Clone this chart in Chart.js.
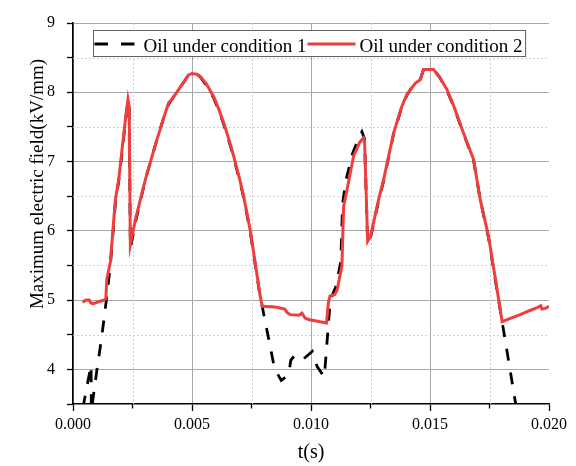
<!DOCTYPE html>
<html>
<head>
<meta charset="utf-8">
<script src="https://cdn.jsdelivr.net/npm/chart.js@4"></script>
<style>
    html, body { margin: 0; padding: 0; background: #fff; }
    #wrap { width: 576px; height: 466px; }
</style>
</head>
<body>
<div id="wrap"><canvas id="fieldChart" width="576" height="466"></canvas></div>
<script>
// Values
const seriesLabels = ['Oil under condition 1', 'Oil under condition 2'];

const cond1T = [0.00042, 0.00060, 0.00076, 0.00077, 0.00100, 0.00120, 0.00139, 0.00157, 0.00178, 0.00192,
    0.00206, 0.00220, 0.00231, 0.00236, 0.00241, 0.00250, 0.00262, 0.00283, 0.00304, 0.00330,
    0.00353, 0.00380, 0.00402, 0.00416, 0.00440, 0.00460, 0.00472, 0.00485, 0.00500, 0.00520,
    0.00535, 0.00560, 0.00591, 0.00612, 0.00633, 0.00655, 0.00675, 0.00700, 0.00717, 0.00745,
    0.00765, 0.00787, 0.00795, 0.00847, 0.00875, 0.00906, 0.00915, 0.00931, 0.00965, 0.01005,
    0.01026, 0.01056, 0.01081, 0.01105, 0.01125, 0.01133, 0.01148, 0.01175, 0.01200, 0.01214,
    0.01225, 0.01238, 0.01250, 0.01284, 0.01305, 0.01347, 0.01380, 0.01403, 0.01420, 0.01438,
    0.01459, 0.01473, 0.01515, 0.01540, 0.01571, 0.01600, 0.01641, 0.01683, 0.01697, 0.01711,
    0.01746, 0.01775, 0.01803, 0.01860, 0.01875];
const cond1V = [3.45, 3.78, 4.06, 3.40, 3.98, 4.45, 4.97, 5.50, 6.40, 6.72,
    7.12, 7.58, 7.88, 7.78, 5.75, 5.90, 6.12, 6.43, 6.74, 7.05,
    7.32, 7.62, 7.83, 7.90, 8.02, 8.12, 8.18, 8.25, 8.27, 8.26,
    8.22, 8.10, 7.92, 7.74, 7.54, 7.30, 7.06, 6.73, 6.48, 5.98,
    5.53, 5.03, 4.91, 4.01, 3.84, 3.92, 4.13, 4.20, 4.14, 4.26,
    4.04, 3.89, 5.00, 5.20, 5.55, 6.40, 6.75, 7.12, 7.33, 7.43,
    7.33, 5.82, 5.90, 6.43, 6.72, 7.40, 7.77, 7.96, 8.05, 8.13,
    8.18, 8.33, 8.33, 8.22, 8.03, 7.79, 7.40, 7.02, 6.74, 6.45,
    5.90, 5.28, 4.69, 3.50, 3.25];

const cond2T = [0.00040, 0.00055, 0.00068, 0.00075, 0.00085, 0.00110, 0.00130, 0.00138, 0.00142, 0.00157,
    0.00178, 0.00192, 0.00206, 0.00220, 0.00231, 0.00236, 0.00241, 0.00250, 0.00262, 0.00283,
    0.00304, 0.00330, 0.00353, 0.00380, 0.00402, 0.00416, 0.00440, 0.00460, 0.00472, 0.00485,
    0.00500, 0.00520, 0.00535, 0.00560, 0.00591, 0.00612, 0.00633, 0.00655, 0.00675, 0.00700,
    0.00717, 0.00745, 0.00765, 0.00787, 0.00795, 0.00850, 0.00890, 0.00900, 0.00913, 0.00950,
    0.00962, 0.00975, 0.00990, 0.01065, 0.01073, 0.01080, 0.01100, 0.01110, 0.01130, 0.01137,
    0.01151, 0.01179, 0.01205, 0.01221, 0.01225, 0.01238, 0.01250, 0.01284, 0.01305, 0.01347,
    0.01380, 0.01403, 0.01420, 0.01438, 0.01459, 0.01473, 0.01515, 0.01540, 0.01571, 0.01600,
    0.01641, 0.01683, 0.01697, 0.01711, 0.01746, 0.01775, 0.01803, 0.01840, 0.01879, 0.01920,
    0.01950, 0.01965, 0.01970, 0.01985, 0.02000];
const cond2V = [4.97, 5.00, 5.00, 4.96, 4.95, 4.98, 5.00, 5.02, 5.30, 5.55,
    6.45, 6.74, 7.17, 7.60, 7.90, 7.80, 5.80, 5.95, 6.16, 6.45,
    6.74, 7.05, 7.32, 7.62, 7.85, 7.90, 8.02, 8.12, 8.18, 8.25,
    8.27, 8.26, 8.23, 8.12, 7.94, 7.76, 7.56, 7.32, 7.08, 6.75,
    6.50, 6.00, 5.55, 5.05, 4.91, 4.90, 4.87, 4.82, 4.79, 4.78,
    4.81, 4.74, 4.72, 4.67, 4.96, 5.06, 5.08, 5.15, 5.50, 6.35,
    6.59, 7.08, 7.28, 7.34, 7.30, 5.85, 5.92, 6.45, 6.74, 7.41,
    7.78, 7.97, 8.05, 8.13, 8.18, 8.33, 8.33, 8.22, 8.04, 7.80,
    7.41, 7.03, 6.74, 6.45, 5.92, 5.30, 4.69, 4.74, 4.79, 4.85,
    4.89, 4.92, 4.87, 4.88, 4.91];

// Axis ticks
const xMajorTicks = [0, 0.005, 0.010, 0.015, 0.020];
const xMinorTicks = [0.0025, 0.0075, 0.0125, 0.0175];
const xTickLabels = ['0.000', '0.005', '0.010', '0.015', '0.020'];
const yMajorTicks = [4, 5, 6, 7, 8, 9];
const yMinorTicks = [3.5, 4.5, 5.5, 6.5, 7.5, 8.5];
const yTickLabels = ['4', '5', '6', '7', '8', '9'];
const xTitle = 't(s)';
const yTitle = 'Maximum electric field(kV/mm)';

const serif = "'Liberation Serif', 'Times New Roman', serif";
const lineColors = ['#000000', '#f03e3e'];
const lineDashes = [[12, 12], []];

function toPoints(ts, vs) {
    return ts.map((t, i) => ({ x: t, y: vs[i] }));
}

function majorIndex(list, v) {
    return list.findIndex(m => Math.abs(m - v) < 1e-9);
}

// Dotted minor grid, short minor x ticks, framed legend and the two axis titles
const figureExtras = {
    id: 'figureExtras',
    beforeDatasetsDraw(chart) {
        const { ctx, chartArea: a, scales } = chart;
        ctx.save();
        ctx.strokeStyle = '#d2d2d2';
        ctx.lineWidth = 1;
        ctx.setLineDash([2, 2]);
        xMinorTicks.forEach(v => {
            const x = Math.round(scales.x.getPixelForValue(v)) + 0.5;
            ctx.beginPath(); ctx.moveTo(x, a.top); ctx.lineTo(x, a.bottom); ctx.stroke();
        });
        yMinorTicks.forEach(v => {
            if (v <= scales.y.min) return;
            const y = Math.round(scales.y.getPixelForValue(v)) + 0.5;
            ctx.beginPath(); ctx.moveTo(a.left, y); ctx.lineTo(a.right, y); ctx.stroke();
        });
        ctx.setLineDash([]);
        ctx.strokeStyle = '#000';
        ctx.lineWidth = 1.3;
        xMinorTicks.forEach(v => {
            const x = scales.x.getPixelForValue(v);
            ctx.beginPath(); ctx.moveTo(x, a.bottom); ctx.lineTo(x, a.bottom + 4.5); ctx.stroke();
        });
        ctx.restore();
    },
    afterDraw(chart) {
        const { ctx, chartArea: a } = chart;
        ctx.save();
        ctx.font = '19px ' + serif;
        ctx.fillStyle = '#000';
        ctx.textBaseline = 'alphabetic';

        // legend
        const boxX = 93.5, boxY = 30.5, boxH = 26, midY = 44;
        const w1 = ctx.measureText(seriesLabels[0]).width;
        const w2 = ctx.measureText(seriesLabels[1]).width;
        const text1X = boxX + 50;
        const line2X = text1X + w1 + 1;
        const text2X = line2X + 52;
        const boxW = text2X + w2 + 3 - boxX;
        ctx.fillStyle = '#fff';
        ctx.fillRect(boxX, boxY, boxW, boxH);
        ctx.strokeStyle = '#606060';
        ctx.lineWidth = 1;
        ctx.strokeRect(boxX, boxY, boxW, boxH);

        ctx.lineWidth = 3;
        ctx.strokeStyle = lineColors[0];
        ctx.setLineDash([13.5, 13]);
        ctx.beginPath(); ctx.moveTo(boxX + 1, midY); ctx.lineTo(boxX + 42, midY); ctx.stroke();
        ctx.setLineDash([]);
        ctx.strokeStyle = lineColors[1];
        ctx.beginPath(); ctx.moveTo(line2X, midY); ctx.lineTo(line2X + 48, midY); ctx.stroke();

        ctx.fillStyle = '#000';
        ctx.textAlign = 'left';
        ctx.fillText(seriesLabels[0], text1X, 51.5);
        ctx.fillText(seriesLabels[1], text2X, 51.5);

        // axis titles
        ctx.textAlign = 'center';
        ctx.font = '20px ' + serif;
        ctx.fillText(xTitle, (a.left + a.right) / 2, 458);
        ctx.font = '19px ' + serif;
        ctx.translate(43, 184);
        ctx.rotate(-Math.PI / 2);
        ctx.fillText(yTitle, 0, 0);
        ctx.restore();
    }
};

new Chart(document.getElementById('fieldChart'), {
    type: 'line',
    data: {
        datasets: [{
            label: seriesLabels[0],
            data: toPoints(cond1T, cond1V),
            borderColor: lineColors[0],
            borderWidth: 2.8,
            borderDash: lineDashes[0],
            pointRadius: 0,
            tension: 0,
            fill: false,
            clip: 0,
            order: 1
        }, {
            label: seriesLabels[1],
            data: toPoints(cond2T, cond2V),
            borderColor: lineColors[1],
            borderWidth: 3,
            pointRadius: 0,
            tension: 0,
            fill: false,
            clip: 0,
            order: 0
        }]
    },
    options: {
        responsive: false,
        animation: false,
        devicePixelRatio: 1,
        layout: { padding: { left: 0, right: 27, top: 23, bottom: 0 } },
        plugins: {
            legend: { display: false },
            tooltip: { enabled: false }
        },
        scales: {
            x: {
                type: 'linear',
                min: 0,
                max: 0.02,
                afterBuildTicks: axis => {
                    axis.ticks = [...xMajorTicks, ...xMinorTicks].sort((a, b) => a - b).map(v => ({ value: v }));
                },
                afterFit: axis => { axis.height = 62; },
                ticks: {
                    autoSkip: false,
                    maxRotation: 0,
                    padding: 4,
                    color: '#000',
                    font: { family: serif, size: 16 },
                    callback: value => {
                        const i = majorIndex(xMajorTicks, value);
                        return i >= 0 ? xTickLabels[i] : '';
                    }
                },
                grid: {
                    color: c => {
                        const v = c.tick ? c.tick.value : 0;
                        return majorIndex(xMajorTicks, v) >= 0 && v < 0.02 ? '#a8a8a8' : 'rgba(0,0,0,0)';
                    },
                    lineWidth: 1,
                    tickColor: c => {
                        const v = c.tick ? c.tick.value : 0;
                        return majorIndex(xMajorTicks, v) >= 0 ? '#000' : 'rgba(0,0,0,0)';
                    },
                    tickLength: 7,
                    tickWidth: 1.3
                },
                border: { color: '#000', width: 1.6 }
            },
            y: {
                min: 3.5,
                max: 9,
                afterBuildTicks: axis => {
                    axis.ticks = [...yMajorTicks, ...yMinorTicks].sort((a, b) => a - b).map(v => ({ value: v }));
                },
                afterFit: axis => { axis.width = 73; },
                ticks: {
                    autoSkip: false,
                    padding: 12,
                    color: '#000',
                    font: { family: serif, size: 16 },
                    callback: value => {
                        const i = majorIndex(yMajorTicks, value);
                        return i >= 0 ? yTickLabels[i] : '';
                    }
                },
                grid: {
                    color: c => {
                        const v = c.tick ? c.tick.value : 0;
                        return majorIndex(yMajorTicks, v) >= 0 ? '#a8a8a8' : 'rgba(0,0,0,0)';
                    },
                    lineWidth: 1,
                    tickColor: '#000',
                    tickLength: 6,
                    tickWidth: 1.3
                },
                border: { color: '#000', width: 1.6 }
            }
        }
    },
    plugins: [figureExtras]
});
</script>
</body>
</html>
